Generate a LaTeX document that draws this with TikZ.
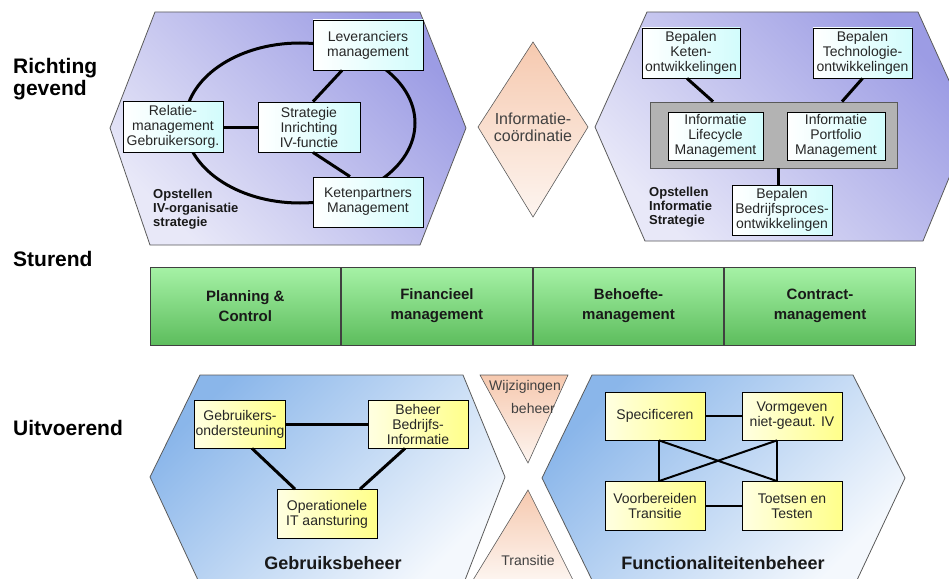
\documentclass[tikz,border=0pt]{standalone}
\usepackage{fontspec}
\setmainfont{Liberation Sans}
\usetikzlibrary{positioning}
\definecolor{lavdeep}{HTML}{9C9CE4}
\definecolor{lavpale}{HTML}{E8E8F8}
\definecolor{bluedeep}{HTML}{8AB6EA}
\definecolor{bluepale}{HTML}{F4F8FD}
\definecolor{peach}{HTML}{F6C9AF}
\definecolor{peachpale}{HTML}{FDF5F0}
\definecolor{greentop}{HTML}{A6F2A6}
\definecolor{greenbot}{HTML}{5DBD5D}
\definecolor{cyanbox}{HTML}{D2FCFC}
\definecolor{yelbox}{HTML}{FFFF8A}
\definecolor{edgegray}{HTML}{5A5A5A}
\definecolor{kerngray}{HTML}{B3B3B3}

\begin{document}
\begin{tikzpicture}[x=1pt,y=-1pt,
    hexa/.style={draw=edgegray, line width=0.8pt},
    peachvlak/.style={draw=edgegray, line width=0.6pt, top color=peach, bottom color=peachpale},
    topbox/.style={draw=black, line width=0.8pt, left color=white, right color=cyanbox, align=center, inner sep=0pt, text=black!85, font=\fontsize{14}{15}\selectfont},
    lowbox/.style={draw=black, line width=0.8pt, left color=yelbox!25, right color=yelbox, align=center, inner sep=0pt, text=black!85, font=\fontsize{14}{15}\selectfont},
    kernbox/.style={draw=black!65, line width=0.8pt, fill=kerngray, inner sep=0pt},
    balk/.style={draw=black!75, line width=0.8pt, top color=greentop, bottom color=greenbot, align=center, inner sep=0pt, minimum width=190.75pt, minimum height=78pt, text=black!90, font=\bfseries\fontsize{15}{20}\selectfont},
    zijlabel/.style={anchor=base west, inner sep=0pt, font=\bfseries\fontsize{21}{22}\selectfont},
    grplabel/.style={anchor=north west, align=left, inner sep=0pt, text=black!90, font=\bfseries\fontsize{13}{14}\selectfont},
    titel/.style={inner sep=0pt, text=black!90, font=\bfseries\fontsize{18}{20}\selectfont},
    vlaktekst/.style={inner sep=0pt, align=center, text=black!75, font=\fontsize{14}{21}\selectfont},
    lijn/.style={line width=3pt},
    lijndun/.style={line width=2pt}]

    \useasboundingbox (0,0) rectangle (949,578);
    \clip (0,0) rectangle (949,578);

    \draw[hexa, top color=lavdeep, bottom color=lavpale, shading angle=-45]
        (155,12) -- (420,12) -- (466,128) -- (420,245) -- (150,245) -- (110,128) -- cycle;
    \draw[hexa, top color=lavdeep, bottom color=lavpale, shading angle=-45]
        (647,12) -- (918,12) -- (970,127) -- (923,241) -- (645,241) -- (595,127) -- cycle;
    \draw[hexa, top color=bluedeep, bottom color=bluepale, shading angle=45]
        (200,375) -- (463,375) -- (505,477) -- (465,580) -- (198,580) -- (150,477) -- cycle;
    \draw[hexa, top color=bluedeep, bottom color=bluepale, shading angle=45]
        (592,375) -- (853,375) -- (905,478) -- (857,580) -- (592,580) -- (542,478) -- cycle;

    \draw[peachvlak] (533,42) -- (588,127) -- (533,217) -- (478,127) -- cycle;
    \draw[peachvlak] (480,375) -- (568,375) -- (528,463) -- cycle;
    \draw[peachvlak] (528,490) -- (573,580) -- (473,580) -- cycle;

    \node[zijlabel] (richting) at (13,73) {Richting};
    \node[zijlabel] (gevend) at (13,95) {gevend};
    \node[zijlabel] (sturend) at (13,266) {Sturend};
    \node[zijlabel] (uitvoerend) at (13,435) {Uitvoerend};

    \node[vlaktekst, font=\fontsize{16}{17}\selectfont] (coord) at (533,127) {Informatie-\\coördinatie};
    \node[vlaktekst] (wijz) at (525,387) {Wijzigingen};
    \node[vlaktekst] (wijz_b) at (533,408) {beheer};
    \node[vlaktekst] (trans) at (528,560) {Transitie};

    \node[balk] (plan) at (245.4,306) {Planning \&\\Control};
    \node[balk] (fin) [right=0pt of plan] {Financieel\\management};
    \node[balk] (behoefte) [right=0pt of fin] {Behoefte-\\management};
    \node[balk] (contract) [right=0pt of behoefte] {Contract-\\management};

    \draw[lijn] (300,123) ellipse [x radius=115pt, y radius=80pt];

    \node[topbox, minimum width=110pt, minimum height=50pt] (lev) at (368,45) {Leveranciers\\management};
    \node[topbox, minimum width=100pt, minimum height=51pt] (rel) at (173,127) {Relatie-\\management\\Gebruikersorg.};
    \node[topbox, minimum width=102pt, minimum height=50pt] (strat) at (309,127) {Strategie\\Inrichting\\IV-functie};
    \node[topbox, minimum width=110pt, minimum height=50pt] (ket) at (368,202) {Ketenpartners\\Management};
    \node[grplabel] (opst_iv) at (153,189) {Opstellen\\IV-organisatie\\strategie};

    \path
    (rel) edge[lijn] (strat)
    ([xshift=4pt]strat.north) edge[lijn] ([xshift=-26pt]lev.south)
    ([xshift=4pt]strat.south) edge[lijn] ([xshift=-18pt]ket.north);

    \node[kernbox, minimum width=247pt, minimum height=66pt] (kern) at (773.5,135) {};
    \node[topbox, minimum width=98pt, minimum height=50pt] (keten) at (691,53) {Bepalen\\Keten-\\ontwikkelingen};
    \node[topbox, minimum width=99pt, minimum height=50pt] (techno) at (862.5,53) {Bepalen\\Technologie-\\ontwikkelingen};
    \node[topbox, minimum width=95pt, minimum height=48pt] (lifecycle) at (715.5,136) {Informatie\\Lifecycle\\Management};
    \node[topbox, minimum width=98pt, minimum height=48pt] (portfolio) at (836,136) {Informatie\\Portfolio\\Management};
    \node[topbox, minimum width=100pt, minimum height=50pt] (bedrijf) at (782,210) {Bepalen\\Bedrijfsproces-\\ontwikkelingen};
    \node[grplabel] (opst_inf) at (649,187) {Opstellen\\Informatie\\Strategie};

    \path
    ([xshift=-4pt]keten.south) edge[lijn] ([xshift=-60.5pt]kern.north)
    (techno.south) edge[lijn] ([xshift=68.5pt]kern.north)
    ([xshift=4.5pt]kern.south) edge[lijn] ([xshift=-4pt]bedrijf.north);

    \node[lowbox, minimum width=91pt, minimum height=48pt] (gebr) at (240,424) {Gebruikers-\\ondersteuning};
    \node[lowbox, minimum width=100pt, minimum height=48pt] (beheer) at (418,424) {Beheer\\Bedrijfs-\\Informatie};
    \node[lowbox, minimum width=100pt, minimum height=49pt] (oper) at (327,514) {Operationele\\IT aansturing};
    \node[titel] (gb) at (333,563) {Gebruiksbeheer};

    \path
    (gebr) edge[lijn] (beheer)
    ([xshift=12pt]gebr.south) edge[lijn] ([xshift=-32pt]oper.north)
    ([xshift=-13pt]beheer.south) edge[lijn] ([xshift=33pt]oper.north);

    \node[lowbox, minimum width=100pt, minimum height=48pt] (spec) at (655,416) {Specificeren};
    \node[lowbox, minimum width=100pt, minimum height=48pt] (vorm) at (792,416) {Vormgeven\\niet-geaut. IV};
    \node[lowbox, minimum width=100pt, minimum height=49pt] (voorb) at (655,506) {Voorbereiden\\Transitie};
    \node[lowbox, minimum width=100pt, minimum height=49pt] (toets) at (792,506) {Toetsen en\\Testen};
    \node[titel] (fb) at (723,563) {Functionaliteitenbeheer};

    \path
    (spec) edge[lijndun] (vorm)
    (voorb) edge[lijndun] (toets)
    ([xshift=4pt]spec.south) edge[lijndun] ([xshift=4pt]voorb.north)
    ([xshift=-15pt]vorm.south) edge[lijndun] ([xshift=-15pt]toets.north)
    ([xshift=4pt]spec.south) edge[lijndun] ([xshift=-15pt]toets.north)
    ([xshift=-15pt]vorm.south) edge[lijndun] ([xshift=4pt]voorb.north);
\end{tikzpicture}
\end{document}
